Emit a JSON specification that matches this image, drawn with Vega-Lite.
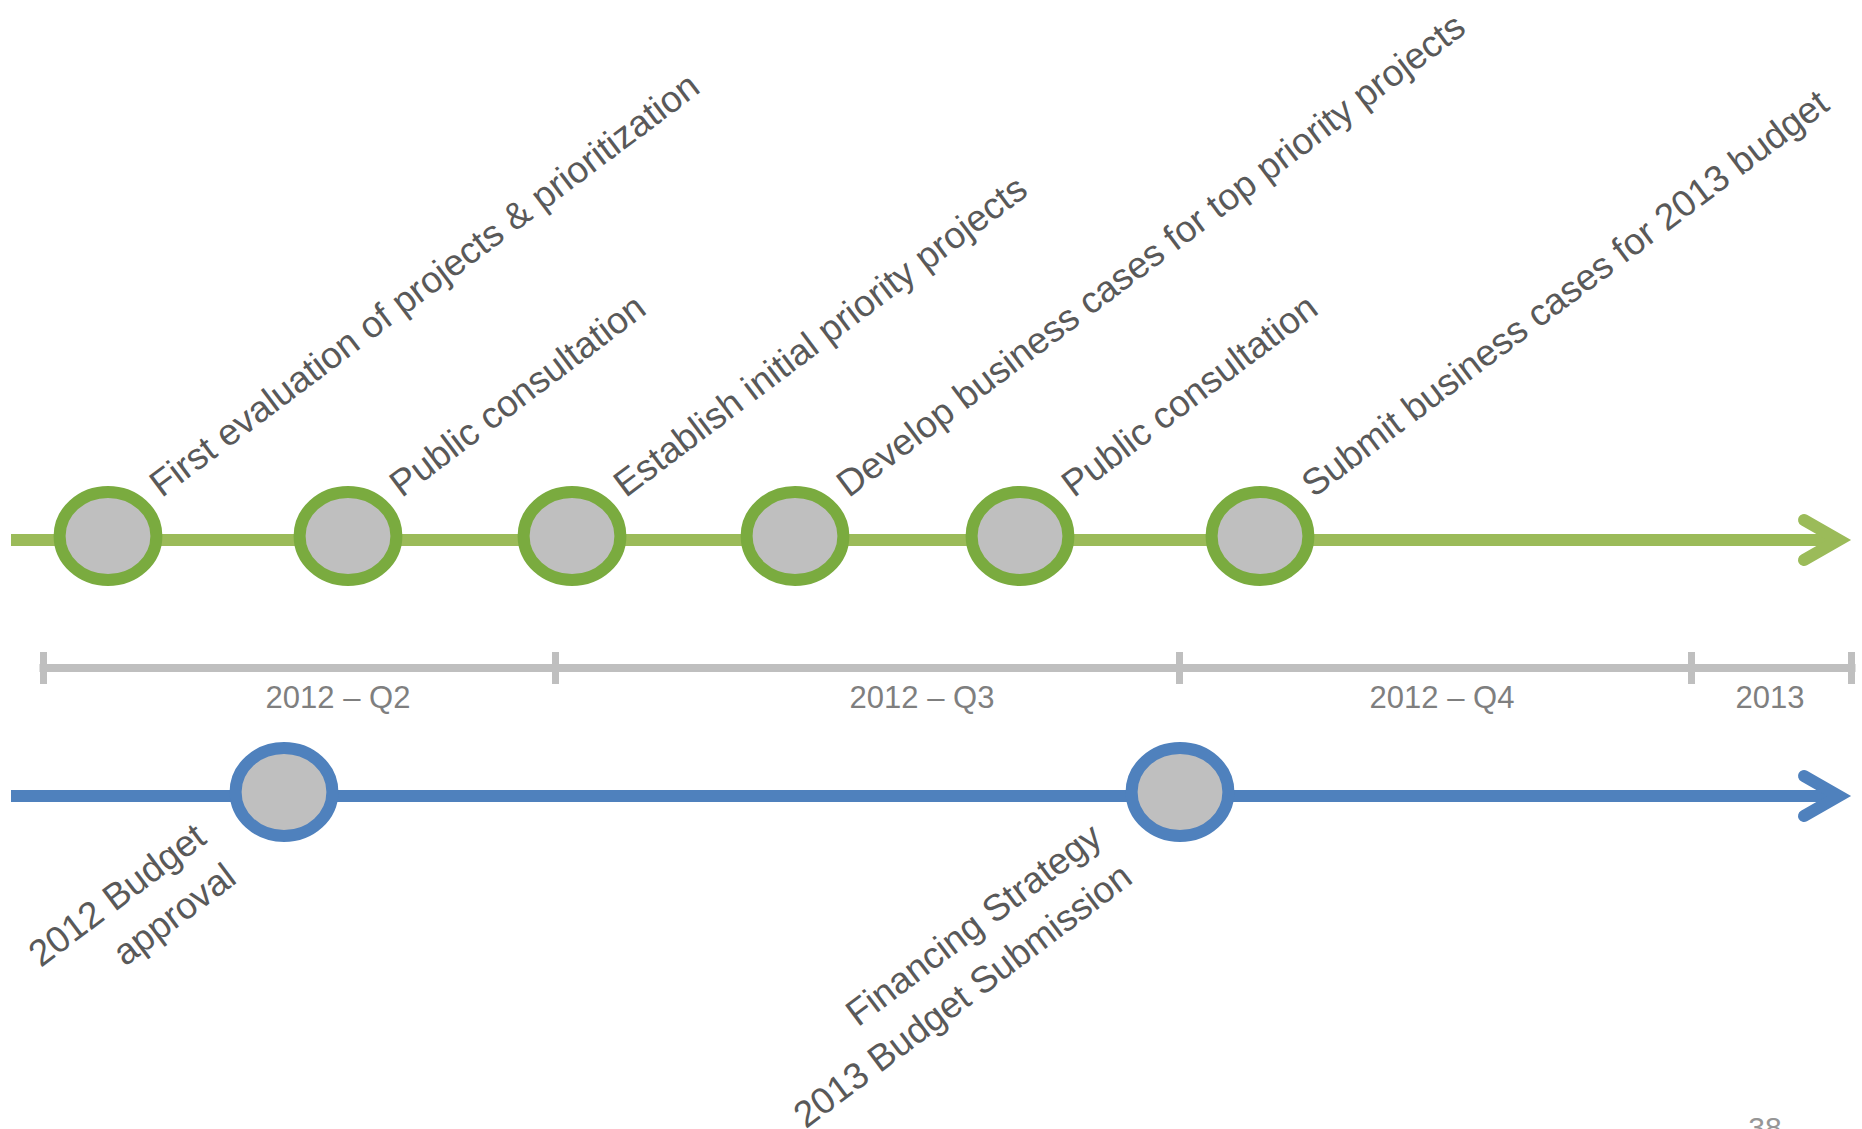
{
  "$schema": "https://vega.github.io/schema/vega-lite/v6.json",
  "width": 1862,
  "height": 1129,
  "autosize": {"type": "none"},
  "padding": 0,
  "background": "white",
  "view": {"stroke": null},
  "config": {"font": "Liberation Sans"},
  "datasets": {
    "tracks": [
      {"track": "Projects", "start": 11, "end": 1839, "y": 540},
      {"track": "Budget", "start": 11, "end": 1839, "y": 796}
    ],
    "arrows": [
      {"track": "Projects", "t": 1804, "y": 520, "i": 0},
      {"track": "Projects", "t": 1839, "y": 540, "i": 1},
      {"track": "Projects", "t": 1804, "y": 560, "i": 2},
      {"track": "Budget", "t": 1804, "y": 776, "i": 0},
      {"track": "Budget", "t": 1839, "y": 796, "i": 1},
      {"track": "Budget", "t": 1804, "y": 816, "i": 2}
    ],
    "milestones": [
      {"track": "Projects", "t": 108, "y": 540, "label": "First evaluation of projects & prioritization"},
      {"track": "Projects", "t": 348, "y": 540, "label": "Public consultation"},
      {"track": "Projects", "t": 572, "y": 540, "label": "Establish initial priority projects"},
      {"track": "Projects", "t": 795, "y": 540, "label": "Develop business cases for top priority projects"},
      {"track": "Projects", "t": 1020, "y": 540, "label": "Public consultation"},
      {"track": "Projects", "t": 1260, "y": 540, "label": "Submit business cases for 2013 budget"},
      {"track": "Budget", "t": 284, "y": 796, "label": "2012 Budget\napproval"},
      {"track": "Budget", "t": 1180, "y": 796, "label": "Financing Strategy\n2013 Budget Submission"}
    ],
    "axisline": [
      {"start": 43.5, "end": 1851.5, "y": 668}
    ],
    "ticks": [
      {"t": 43.5, "y": 652, "y2": 684},
      {"t": 555.5, "y": 652, "y2": 684},
      {"t": 1179.5, "y": 652, "y2": 684},
      {"t": 1691.5, "y": 652, "y2": 684},
      {"t": 1851.5, "y": 652, "y2": 684}
    ],
    "periods": [
      {"period": "2012 – Q2", "t": 338, "y": 708},
      {"period": "2012 – Q3", "t": 922, "y": 708},
      {"period": "2012 – Q4", "t": 1442, "y": 708},
      {"period": "2013", "t": 1770, "y": 708}
    ],
    "page": [
      {"text": "38", "t": 1765, "y": 1138}
    ]
  },
  "layer": [
    {
      "data": {"name": "axisline"},
      "mark": {"type": "rule", "strokeWidth": 8, "strokeCap": "square", "color": "#bfbfbf"},
      "encoding": {
        "x": {"field": "start", "type": "quantitative", "scale": {"domain": [0, 1862], "nice": false, "zero": false}, "axis": null},
        "x2": {"field": "end"},
        "y": {"field": "y", "type": "quantitative", "scale": {"domain": [0, 1129], "reverse": true, "nice": false, "zero": false}, "axis": null}
      }
    },
    {
      "data": {"name": "ticks"},
      "mark": {"type": "rule", "strokeWidth": 7, "strokeCap": "butt", "color": "#bfbfbf"},
      "encoding": {
        "x": {"field": "t", "type": "quantitative", "scale": {"domain": [0, 1862], "nice": false, "zero": false}, "axis": null},
        "y": {"field": "y", "type": "quantitative", "scale": {"domain": [0, 1129], "reverse": true, "nice": false, "zero": false}, "axis": null},
        "y2": {"field": "y2"}
      }
    },
    {
      "data": {"name": "periods"},
      "mark": {"type": "text", "fontSize": 31, "color": "#7f7f7f", "align": "center", "baseline": "alphabetic"},
      "encoding": {
        "x": {"field": "t", "type": "quantitative", "scale": {"domain": [0, 1862], "nice": false, "zero": false}, "axis": null},
        "y": {"field": "y", "type": "quantitative", "scale": {"domain": [0, 1129], "reverse": true, "nice": false, "zero": false}, "axis": null},
        "text": {"field": "period"}
      }
    },
    {
      "data": {"name": "tracks"},
      "mark": {"type": "rule", "strokeWidth": 12, "strokeCap": "butt"},
      "encoding": {
        "x": {"field": "start", "type": "quantitative", "scale": {"domain": [0, 1862], "nice": false, "zero": false}, "axis": null},
        "x2": {"field": "end"},
        "y": {"field": "y", "type": "quantitative", "scale": {"domain": [0, 1129], "reverse": true, "nice": false, "zero": false}, "axis": null},
        "color": {"field": "track", "type": "nominal", "scale": {"domain": ["Projects", "Budget"], "range": ["#9bbb59", "#4f81bd"]}, "legend": null}
      }
    },
    {
      "data": {"name": "arrows"},
      "mark": {"type": "line", "strokeWidth": 12, "strokeCap": "round", "strokeJoin": "miter"},
      "encoding": {
        "x": {"field": "t", "type": "quantitative", "scale": {"domain": [0, 1862], "nice": false, "zero": false}, "axis": null},
        "y": {"field": "y", "type": "quantitative", "scale": {"domain": [0, 1129], "reverse": true, "nice": false, "zero": false}, "axis": null},
        "order": {"field": "i", "type": "quantitative"},
        "color": {"field": "track", "type": "nominal", "scale": {"domain": ["Projects", "Budget"], "range": ["#9bbb59", "#4f81bd"]}, "legend": null}
      }
    },
    {
      "data": {"name": "milestones"},
      "mark": {
        "type": "point",
        "shape": "M-1.1,0 C-1.1,-0.5523 -0.6075,-1 0,-1 C0.6075,-1 1.1,-0.5523 1.1,0 C1.1,0.5523 0.6075,1 0,1 C-0.6075,1 -1.1,0.5523 -1.1,0 Z",
        "size": 7744,
        "fill": "#bfbfbf",
        "fillOpacity": 1,
        "strokeOpacity": 1,
        "opacity": 1,
        "strokeWidth": 12,
        "yOffset": -4
      },
      "encoding": {
        "x": {"field": "t", "type": "quantitative", "scale": {"domain": [0, 1862], "nice": false, "zero": false}, "axis": null},
        "y": {"field": "y", "type": "quantitative", "scale": {"domain": [0, 1129], "reverse": true, "nice": false, "zero": false}, "axis": null},
        "stroke": {"field": "track", "type": "nominal", "scale": {"domain": ["Projects", "Budget"], "range": ["#7aab3f", "#4f81bd"]}, "legend": null}
      }
    },
    {
      "data": {"name": "milestones"},
      "transform": [{"filter": "datum.track === 'Projects'"}],
      "mark": {"type": "text", "fontSize": 37, "color": "#595959", "angle": 323, "align": "left", "baseline": "alphabetic", "dx": 68, "dy": -1},
      "encoding": {
        "x": {"field": "t", "type": "quantitative", "scale": {"domain": [0, 1862], "nice": false, "zero": false}, "axis": null},
        "y": {"field": "y", "type": "quantitative", "scale": {"domain": [0, 1129], "reverse": true, "nice": false, "zero": false}, "axis": null},
        "text": {"field": "label"}
      }
    },
    {
      "data": {"name": "milestones"},
      "transform": [{"filter": "datum.track === 'Budget'"}],
      "mark": {"type": "text", "fontSize": 37, "color": "#595959", "angle": 323, "align": "right", "baseline": "alphabetic", "dx": -88, "dy": -9, "lineBreak": "\n", "lineHeight": 50},
      "encoding": {
        "x": {"field": "t", "type": "quantitative", "scale": {"domain": [0, 1862], "nice": false, "zero": false}, "axis": null},
        "y": {"field": "y", "type": "quantitative", "scale": {"domain": [0, 1129], "reverse": true, "nice": false, "zero": false}, "axis": null},
        "text": {"field": "label"}
      }
    },
    {
      "data": {"name": "page"},
      "mark": {"type": "text", "fontSize": 30, "color": "#969696", "align": "center", "baseline": "alphabetic"},
      "encoding": {
        "x": {"field": "t", "type": "quantitative", "scale": {"domain": [0, 1862], "nice": false, "zero": false}, "axis": null},
        "y": {"field": "y", "type": "quantitative", "scale": {"domain": [0, 1129], "reverse": true, "nice": false, "zero": false}, "axis": null},
        "text": {"field": "text"}
      }
    }
  ]
}
